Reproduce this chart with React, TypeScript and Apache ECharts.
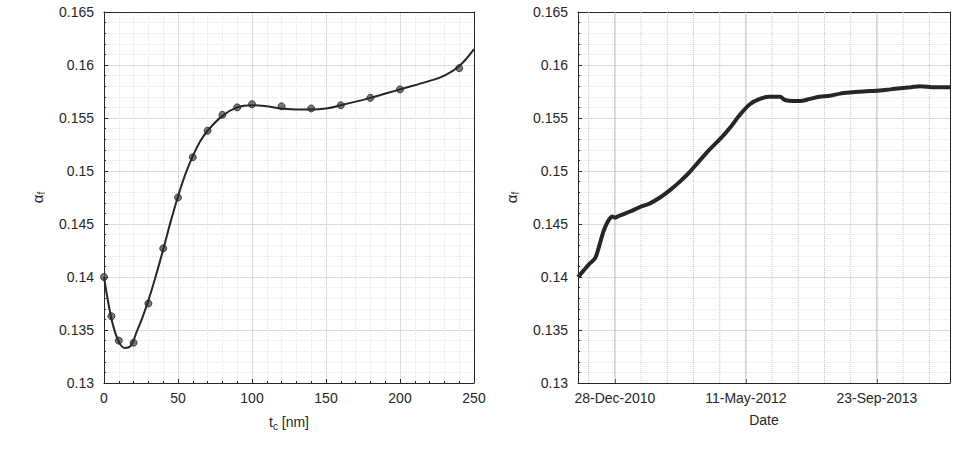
import { useEffect, useRef } from "react";
import * as echarts from "echarts";

// left panel: measured points and fitted curve
const tcPoints = [0, 5, 10, 20, 30, 40, 50, 60, 70, 80, 90, 100, 120, 140, 160, 180, 200, 240];
const alphaPoints = [0.140, 0.1363, 0.134, 0.1338, 0.1375, 0.1427, 0.1475, 0.1513, 0.1538, 0.1553, 0.156, 0.1563, 0.1561, 0.1559, 0.1562, 0.1569, 0.1577, 0.1597];
const tcFit = [0, 3, 6, 10, 14, 18, 22, 26, 30, 35, 40, 45, 50, 55, 60, 65, 70, 80, 90, 100, 110, 120, 130, 140, 150, 160, 180, 200, 220, 230, 240, 250];
const alphaFit = [0.140, 0.1375, 0.1355, 0.1339, 0.1333, 0.1335, 0.1348, 0.1362, 0.1378, 0.1401, 0.1426, 0.1452, 0.1476, 0.1497, 0.1514, 0.1528, 0.1538, 0.1552, 0.156, 0.1562, 0.1561, 0.1559, 0.1558, 0.1558, 0.1559, 0.1562, 0.1569, 0.1577, 0.1585, 0.159, 0.1599, 0.1615];

// right panel: days relative to 28-Dec-2010
const dayOffsets = [-141, -120, -95, -75, -57, -45, -34, -20, -11, 0, 19, 60, 95, 130, 172, 210, 248, 285, 324, 360, 401, 440, 477, 515, 553, 590, 630, 649, 680, 706, 744, 780, 821, 860, 897, 950, 1011, 1050, 1088, 1130, 1164, 1220, 1279];
const alphaDate = [0.140, 0.1406, 0.1413, 0.1418, 0.1432, 0.1442, 0.1449, 0.1455, 0.1457, 0.1456, 0.1458, 0.1462, 0.1466, 0.1469, 0.1475, 0.1482, 0.149, 0.1499, 0.151, 0.152, 0.153, 0.1541, 0.1553, 0.1563, 0.1568, 0.157, 0.157, 0.1567, 0.1566, 0.1566, 0.1568, 0.157, 0.1571, 0.1573, 0.1574, 0.1575, 0.1576, 0.1577, 0.1578, 0.1579, 0.158, 0.1579, 0.1579];
const dateTicks = [0, 500, 1000];
const dateLabels = ["28-Dec-2010", "11-May-2012", "23-Sep-2013"];
const dateMinor = [-100, 100, 200, 300, 400, 600, 700, 800, 900, 1100, 1200];

const FONT = "Liberation Sans";
const DARK = "#262626";

const yAxisBase = (gridIndex: number) => ({
  type: "value" as const,
  gridIndex,
  min: 0.13,
  max: 0.165,
  interval: 0.005,
  name: "{a|α}{s|f}",
  nameLocation: "middle" as const,
  nameGap: 58,
  nameRotate: 90,
  nameTextStyle: { rich: { a: { fontSize: 15, color: DARK, fontFamily: FONT }, s: { fontSize: 10, color: DARK, fontFamily: FONT, verticalAlign: "bottom" as const, padding: [8, 0, 0, 0] } } },
  axisLine: { show: true, onZero: false, lineStyle: { color: DARK } },
  axisTick: { show: true, inside: true, length: 4, lineStyle: { color: DARK } },
  minorTick: { show: true, splitNumber: 5, length: 2, lineStyle: { color: DARK } },
  axisLabel: { color: DARK, fontSize: 14, fontFamily: FONT, margin: 10, formatter: (v: number) => String(+v.toFixed(3)) },
  splitLine: { show: true, lineStyle: { color: "#dcdcdc" } },
  minorSplitLine: { show: true, lineStyle: { color: "#e6e6e6", type: "dotted" as const } },
});

// plain axis line used to close the box on the top / right side
const frameAxis = (gridIndex: number, position: string, min: number, max: number) => ({
  type: "value" as const,
  gridIndex,
  position,
  min,
  max,
  axisLine: { show: true, onZero: false, lineStyle: { color: DARK } },
  axisTick: { show: false },
  axisLabel: { show: false },
  splitLine: { show: false },
});

// vertical grid lines of the date panel (series lines are not pixel-snapped, so a bit darker)
const vLine = (x: number, major: boolean) => ({
  type: "line",
  xAxisIndex: 1,
  yAxisIndex: 1,
  showSymbol: false,
  silent: true,
  data: [[x, 0.13], [x, 0.165]],
  lineStyle: { color: major ? "#b8b8b8" : "#c4c4c4", width: 1, type: major ? "solid" : "dotted" },
});

export default function App() {
  const ref = useRef<HTMLDivElement>(null);

  useEffect(() => {
    if (!ref.current) return;
    const chart = echarts.init(ref.current, null, { renderer: "svg" });
    chart.setOption({
      animation: false,
      grid: [
        { left: 104, right: 500, top: 12, bottom: 71 },
        { left: 578, right: 24, top: 12, bottom: 71 },
      ],
      xAxis: [
        {
          type: "value",
          gridIndex: 0,
          min: 0,
          max: 250,
          interval: 50,
          name: "{a|t}{s|c}{a| [nm]}",
          nameLocation: "middle",
          nameGap: 30,
          nameTextStyle: { rich: { a: { fontSize: 14, color: DARK, fontFamily: FONT }, s: { fontSize: 10, color: DARK, fontFamily: FONT, verticalAlign: "bottom", padding: [8, 0, 0, 0] } } },
          axisLine: { show: true, onZero: false, lineStyle: { color: DARK } },
          axisTick: { show: true, inside: true, length: 4, lineStyle: { color: DARK } },
          minorTick: { show: true, splitNumber: 5, length: 2, lineStyle: { color: DARK } },
          axisLabel: { color: DARK, fontSize: 14, fontFamily: FONT, margin: 8 },
          splitLine: { show: true, lineStyle: { color: "#dcdcdc" } },
          minorSplitLine: { show: true, lineStyle: { color: "#e6e6e6", type: "dotted" } },
        },
        {
          type: "value",
          gridIndex: 1,
          position: "bottom",
          min: -141,
          max: 1279,
          name: "Date",
          nameLocation: "middle",
          nameGap: 30,
          nameTextStyle: { fontSize: 14, color: DARK, fontFamily: FONT },
          axisLine: { show: true, onZero: false, lineStyle: { color: DARK } },
          axisTick: { show: true, inside: true, length: 4, customValues: dateTicks, lineStyle: { color: DARK } },
          axisLabel: {
            color: DARK, fontSize: 14, fontFamily: FONT, margin: 8,
            customValues: dateTicks,
            formatter: (v: number) => dateLabels[dateTicks.indexOf(Math.round(v))] ?? "",
          },
          splitLine: { show: false },
        },
        frameAxis(0, "top", 0, 250),
        frameAxis(1, "top", -141, 1279),
      ],
      yAxis: [yAxisBase(0), yAxisBase(1), frameAxis(0, "right", 0.13, 0.165), frameAxis(1, "right", 0.13, 0.165)],
      series: [
        ...dateMinor.map((x) => vLine(x, false)),
        ...dateTicks.map((x) => vLine(x, true)),
        {
          type: "line",
          xAxisIndex: 0,
          yAxisIndex: 0,
          data: tcFit.map((x, i) => [x, alphaFit[i]]),
          smooth: 0.4,
          showSymbol: false,
          lineStyle: { color: DARK, width: 2 },
        },
        {
          type: "scatter",
          xAxisIndex: 0,
          yAxisIndex: 0,
          data: tcPoints.map((x, i) => [x, alphaPoints[i]]),
          symbolSize: 7,
          itemStyle: { color: "#555555", borderColor: DARK, borderWidth: 1 },
        },
        {
          type: "line",
          xAxisIndex: 1,
          yAxisIndex: 1,
          data: dayOffsets.map((x, i) => [x, alphaDate[i]]),
          smooth: 0.3,
          showSymbol: false,
          z: 5,
          lineStyle: { color: DARK, width: 4 },
        },
      ],
    });
    return () => chart.dispose();
  }, []);

  return <div ref={ref} style={{ position: "absolute", left: 0, top: 0, width: 974, height: 454 }} />;
}
